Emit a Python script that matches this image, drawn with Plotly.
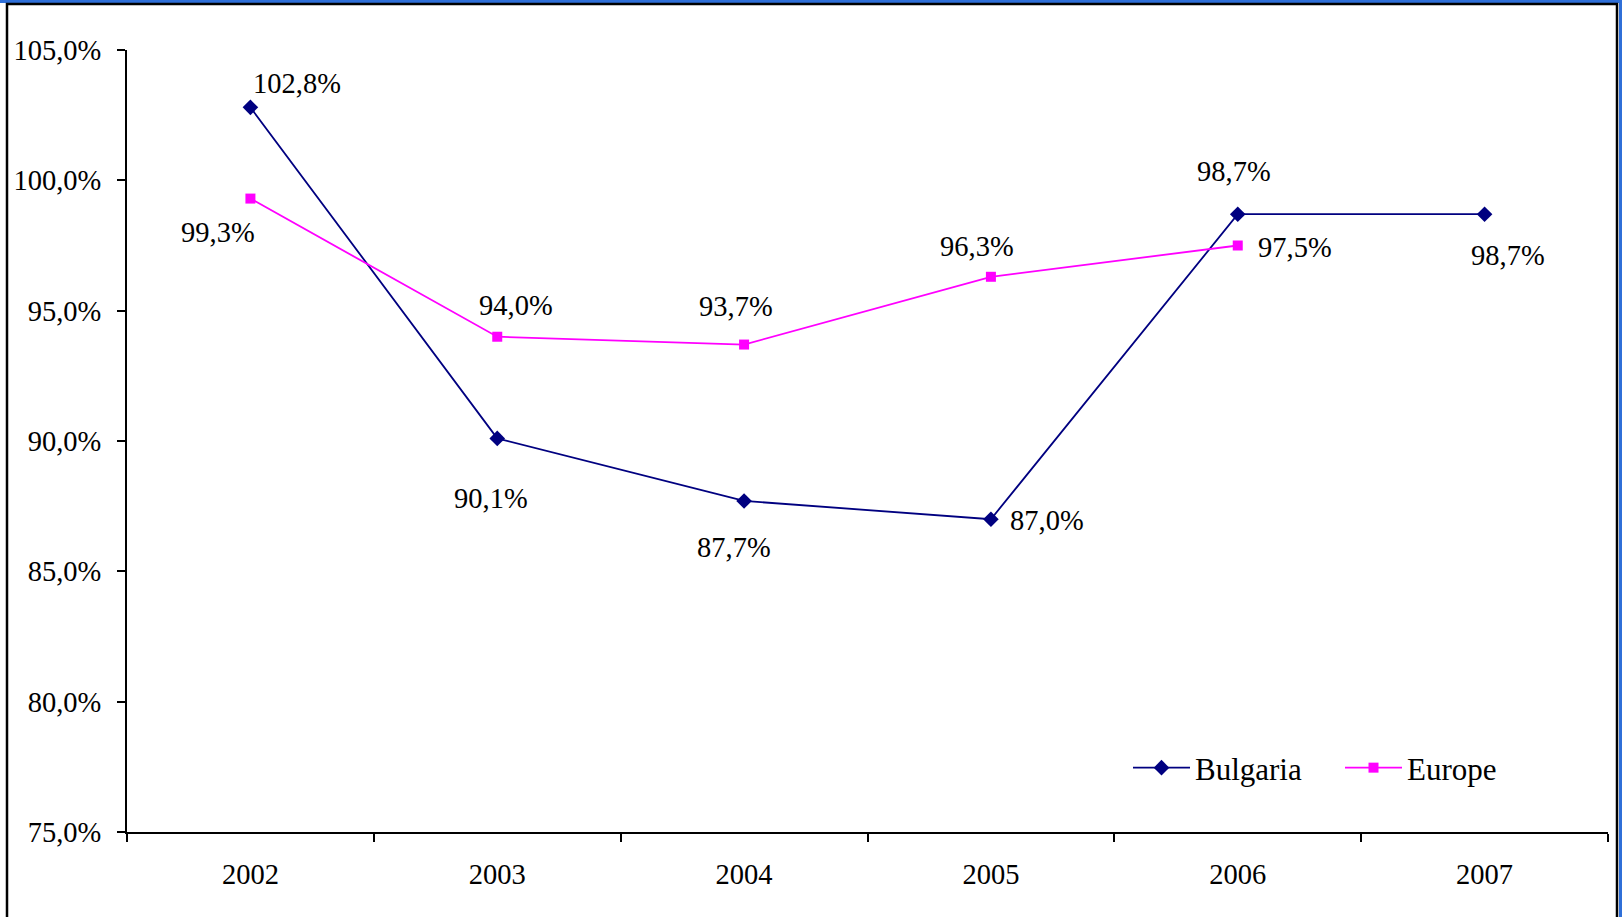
import plotly.graph_objects as go

years = ["2002", "2003", "2004", "2005", "2006", "2007"]
bulgaria = [102.8, 90.1, 87.7, 87.0, 98.7, 98.7]
europe = [99.3, 94.0, 93.7, 96.3, 97.5, None]

# label offsets in pixels (style only)
bg_off = [(47, 24), (-6, -60), (-10, -47), (56, -1), (-4, 43), (23, -41)]
eu_off = [(-32, -34), (19, 31), (-8, 38), (-14, 30), (57, -2)]

NAVY = "#000080"
MAGENTA = "#FF00FF"
FONT = "'Liberation Serif', 'Times New Roman', Times, serif"
FS = 28.5

fig = go.Figure()
fig.add_trace(go.Scatter(
    x=years, y=bulgaria, name="Bulgaria", mode="lines+markers",
    line=dict(color=NAVY, width=1.8),
    marker=dict(symbol="diamond", size=12, color=NAVY),
))
fig.add_trace(go.Scatter(
    x=years, y=europe, name="Europe", mode="lines+markers",
    line=dict(color=MAGENTA, width=1.8),
    marker=dict(symbol="square", size=10, color=MAGENTA),
))

def fmt(v):
    return f"{v:.1f}".replace(".", ",") + "%"

ann = []
for i, (v, (dx, dy)) in enumerate(zip(bulgaria, bg_off)):
    ann.append(dict(x=i, y=v, xref="x", yref="y", text=fmt(v), showarrow=False, xshift=dx, yshift=dy,
                    font=dict(family=FONT, size=FS, color="black")))
for i, (v, (dx, dy)) in enumerate(zip(europe, eu_off)):
    if v is None:
        continue
    ann.append(dict(x=i, y=v, xref="x", yref="y", text=fmt(v), showarrow=False, xshift=dx, yshift=dy,
                    font=dict(family=FONT, size=FS, color="black")))

W, H = 1622, 917
L, R, T, B = 127, 14, 50, 85
pw, ph = W - L - R, H - T - B

def px(x):
    return (x - L) / pw

def py(y):
    return 1 - (y - T) / ph

shapes = [
    dict(type="rect", xref="paper", yref="paper", x0=px(0), x1=px(W), y0=py(3), y1=py(0),
         fillcolor="#2f6fd8", line=dict(width=0), layer="below"),
    dict(type="rect", xref="paper", yref="paper", x0=px(1619), x1=px(W), y0=py(H), y1=py(0),
         fillcolor="#2f6fd8", line=dict(width=0), layer="below"),
    dict(type="rect", xref="paper", yref="paper", x0=px(7), x1=px(1617), y0=py(H + 5), y1=py(4),
         fillcolor="rgba(0,0,0,0)", line=dict(color="black", width=2.5)),
]

fig.update_layout(
    width=W, height=H,
    margin=dict(l=L, r=R, t=T, b=B, autoexpand=False),
    paper_bgcolor="white", plot_bgcolor="white",
    separators=",.",
    font=dict(family=FONT, size=FS, color="black"),
    showlegend=True,
    legend=dict(orientation="h", x=px(1128), y=py(768), xanchor="left", yanchor="middle",
                font=dict(family=FONT, size=31, color="black"), bgcolor="rgba(0,0,0,0)",
                itemwidth=57, entrywidth=140, tracegroupgap=0),
    annotations=ann,
    shapes=shapes,
)
fig.update_xaxes(
    type="category", range=[-0.5, 5.5], autorange=False, showgrid=False, showline=True,
    linecolor="black", linewidth=2,
    ticks="outside", tickson="boundaries", ticklen=8, tickwidth=1.5, tickcolor="black",
    ticklabelstandoff=16, tickangle=0, tickfont=dict(family=FONT, size=FS, color="black"),
    zeroline=False,
)
fig.update_yaxes(
    range=[75, 105], autorange=False, dtick=5, tick0=75, showgrid=False, showline=True,
    linecolor="black", linewidth=2,
    ticks="outside", ticklen=8, tickwidth=1.5, tickcolor="black",
    tickformat=".1f", ticksuffix="%", ticklabelstandoff=10,
    tickfont=dict(family=FONT, size=FS, color="black"), zeroline=False,
)

fig.write_html("out.html", config={"displayModeBar": False},
               post_script="document.body.style.margin='0';document.body.style.overflow='hidden';")
